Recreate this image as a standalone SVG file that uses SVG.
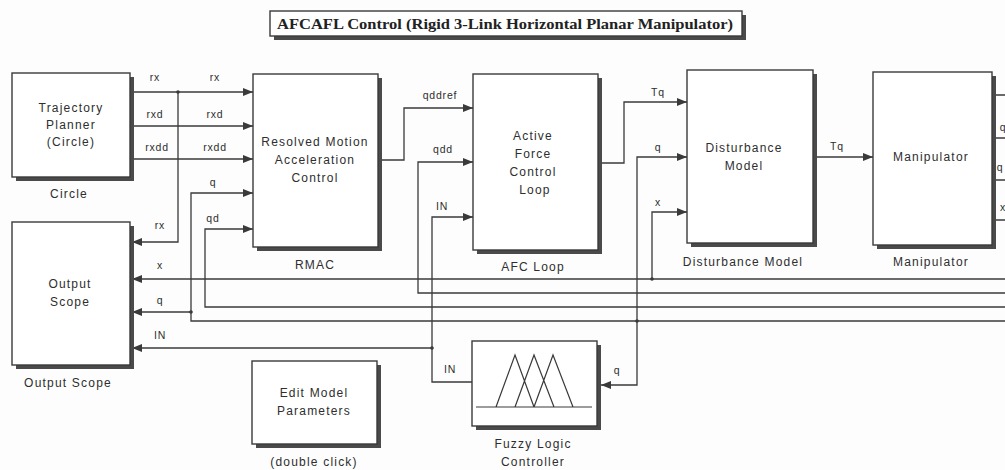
<svg xmlns="http://www.w3.org/2000/svg" width="1005" height="470" viewBox="0 0 1005 470">
<style>
.bg{fill:#fdfdfd}
.box{fill:#fff;stroke:#3a3a3a;stroke-width:1.4}
.sh{fill:#4a4a4a}
.t{font-family:"Liberation Sans",Arial,sans-serif;font-size:12px;fill:#2e2e2e;text-anchor:middle;letter-spacing:1.2px}
.s{font-family:"Liberation Sans",Arial,sans-serif;font-size:10.5px;fill:#2e2e2e;text-anchor:middle;letter-spacing:0.8px}
.w{fill:none;stroke:#3a3a3a;stroke-width:1.3}
.a{marker-end:url(#arr)}
.dot{fill:#3a3a3a}
.title{font-family:"Liberation Serif","Times New Roman",serif;font-size:15px;font-weight:bold;fill:#222;text-anchor:middle}
</style>
<defs>
<marker id="arr" markerUnits="userSpaceOnUse" markerWidth="10" markerHeight="8" refX="10" refY="4" orient="auto">
<path d="M0,0 L10,4 L0,8 z" fill="#3a3a3a"/>
</marker>
</defs>
<rect class="bg" x="0" y="0" width="1005" height="470"/>

<g id="title">
<rect class="sh" x="274" y="15" width="472" height="25"/>
<rect x="270" y="11" width="472" height="25" fill="#fff" stroke="#3a3a3a" stroke-width="1.4"/>
<text class="title" x="505" y="29" textLength="456" lengthAdjust="spacingAndGlyphs">AFCAFL Control (Rigid 3-Link Horizontal Planar Manipulator)</text>
</g>

<g id="connectors">
<path class="w a" d="M134 92 H253"/>
<path class="w a" d="M134 126 H253"/>
<path class="w a" d="M134 159 H253"/>
<path class="w a" d="M178 92 V242 H132"/>
<path class="w a" d="M1005 321 H191 V193 H253"/>
<path class="w a" d="M191 312 H132"/>
<path class="w a" d="M1005 307 H205 V229 H253"/>
<path class="w a" d="M1005 279 H132"/>
<path class="w a" d="M652 279 V212 H687"/>
<path class="w a" d="M1005 293 H418 V162 H473"/>
<path class="w a" d="M472 382 H432 V217 H473"/>
<path class="w a" d="M432 348 H132"/>
<path class="w a" d="M637 321 V157 H687"/>
<path class="w a" d="M637 321 V385 H601"/>
<path class="w a" d="M382 160 H404 V108 H473"/>
<path class="w a" d="M602 163 H624 V102 H687"/>
<path class="w a" d="M817 157 H873"/>
<path class="w" d="M996 95 H1005 M996 138 H1005 M996 180 H1005 M996 220 H1005"/>
<circle class="dot" cx="178" cy="92" r="1.8"/>
<circle class="dot" cx="191" cy="312" r="1.8"/>
<circle class="dot" cx="432" cy="348" r="1.8"/>
<circle class="dot" cx="652" cy="279" r="1.8"/>
<circle class="dot" cx="637" cy="321" r="1.8"/>
<text class="s" x="155" y="81">rx</text>
<text class="s" x="215" y="81">rx</text>
<text class="s" x="155" y="118">rxd</text>
<text class="s" x="215" y="118">rxd</text>
<text class="s" x="157" y="151">rxdd</text>
<text class="s" x="215" y="151">rxdd</text>
<text class="s" x="213" y="186">q</text>
<text class="s" x="213" y="222">qd</text>
<text class="s" x="160" y="229">rx</text>
<text class="s" x="160" y="269">x</text>
<text class="s" x="160" y="304">q</text>
<text class="s" x="160" y="339">IN</text>
<text class="s" x="440" y="99">qddref</text>
<text class="s" x="443" y="153">qdd</text>
<text class="s" x="442" y="210">IN</text>
<text class="s" x="658" y="96">Tq</text>
<text class="s" x="658" y="151">q</text>
<text class="s" x="658" y="206">x</text>
<text class="s" x="837" y="150">Tq</text>
<text class="s" x="450" y="373">IN</text>
<text class="s" x="617" y="374">q</text>
<text class="s" x="1003" y="131">q</text>
<text class="s" x="1000" y="171">q</text>
<text class="s" x="1003" y="211">x</text>
</g>

<g id="trajectory-planner">
<rect class="sh" x="16" y="77" width="118" height="104"/>
<rect class="box" x="12" y="73" width="118" height="104"/>
<text class="t" x="71" y="112">Trajectory</text>
<text class="t" x="71" y="129">Planner</text>
<text class="t" x="71" y="146">(Circle)</text>
<text class="t" x="69" y="198">Circle</text>
</g>

<g id="output-scope">
<rect class="sh" x="16" y="226" width="118" height="143"/>
<rect class="box" x="12" y="222" width="118" height="143"/>
<text class="t" x="70" y="288">Output</text>
<text class="t" x="70" y="306">Scope</text>
<text class="t" x="68" y="387">Output Scope</text>
</g>

<g id="rmac">
<rect class="sh" x="257" y="78" width="125" height="173"/>
<rect class="box" x="253" y="74" width="125" height="173"/>
<text class="t" x="315" y="146">Resolved Motion</text>
<text class="t" x="315" y="164">Acceleration</text>
<text class="t" x="315" y="182">Control</text>
<text class="t" x="315" y="269">RMAC</text>
</g>

<g id="afc-loop">
<rect class="sh" x="477" y="78" width="125" height="176"/>
<rect class="box" x="473" y="74" width="125" height="176"/>
<text class="t" x="533" y="140">Active</text>
<text class="t" x="533" y="158">Force</text>
<text class="t" x="533" y="176">Control</text>
<text class="t" x="535" y="194">Loop</text>
<text class="t" x="533" y="271">AFC Loop</text>
</g>

<g id="disturbance-model">
<rect class="sh" x="691" y="74" width="126" height="173"/>
<rect class="box" x="687" y="70" width="126" height="173"/>
<text class="t" x="744" y="152">Disturbance</text>
<text class="t" x="744" y="170">Model</text>
<text class="t" x="743" y="266">Disturbance Model</text>
</g>

<g id="manipulator">
<rect class="sh" x="877" y="76" width="119" height="173"/>
<rect class="box" x="873" y="72" width="119" height="173"/>
<text class="t" x="931" y="161">Manipulator</text>
<text class="t" x="931" y="266">Manipulator</text>
</g>

<g id="edit-model-parameters">
<rect class="sh" x="256" y="365" width="125" height="83"/>
<rect class="box" x="252" y="361" width="125" height="83"/>
<text class="t" x="314" y="397">Edit Model</text>
<text class="t" x="314" y="415">Parameters</text>
<text class="t" x="314" y="466">(double click)</text>
</g>

<g id="fuzzy-logic-controller">
<rect class="sh" x="476" y="345" width="125" height="85"/>
<rect class="box" x="472" y="341" width="125" height="85"/>
<path d="M476 407 H592 M496 407 L515 355 L534 407 M515 407 L534 355 L554 407 M534 407 L553 355 L573 407" fill="none" stroke="#3a3a3a" stroke-width="1.2"/>
<text class="t" x="533" y="448">Fuzzy Logic</text>
<text class="t" x="533" y="466">Controller</text>
</g>
</svg>
